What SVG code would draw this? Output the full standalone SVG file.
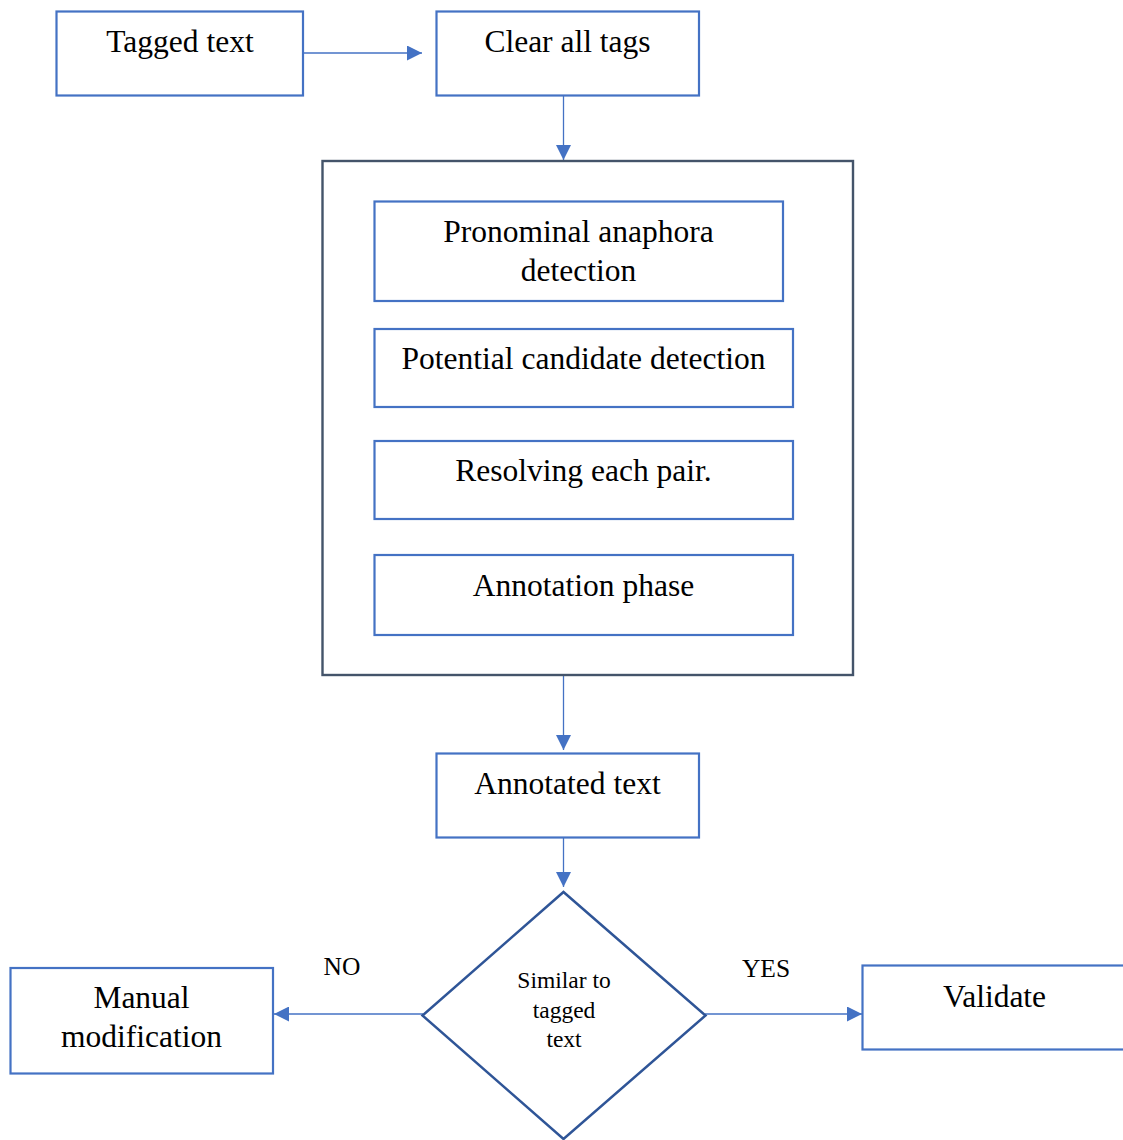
<svg xmlns="http://www.w3.org/2000/svg" width="1123" height="1140" viewBox="0 0 1123 1140">
  <style>
    .box { fill: #ffffff; stroke: #4472C4; stroke-width: 2.2; }
    .frame { fill: #ffffff; stroke: #44546A; stroke-width: 2.4; }
    .decision { fill: #ffffff; stroke: #2F5597; stroke-width: 2.5; }
    .link { fill: none; stroke: #4472C4; stroke-width: 1.3; }
    .lbl { font-family: "Liberation Serif", "Times New Roman", serif; font-size: 31.5px; fill: #000000; text-anchor: middle; }
    .small { font-family: "Liberation Serif", "Times New Roman", serif; font-size: 23.5px; fill: #000000; text-anchor: middle; }
    .branch { font-family: "Liberation Serif", "Times New Roman", serif; font-size: 25.5px; fill: #000000; text-anchor: middle; }
  </style>
  <defs>
    <marker id="arrow" viewBox="0 0 10 10" refX="10" refY="5" markerWidth="15" markerHeight="15" markerUnits="userSpaceOnUse" orient="auto">
      <path d="M0,0 L10,5 L0,10 Z" fill="#4472C4"/>
    </marker>
  </defs>
  <rect width="1123" height="1140" fill="#ffffff"/>

  <!-- connectors -->
  <g id="connectors">
    <line class="link" x1="303" y1="53" x2="422" y2="53" marker-end="url(#arrow)"/>
    <line class="link" x1="563.5" y1="96" x2="563.5" y2="160" marker-end="url(#arrow)"/>
    <line class="link" x1="563.5" y1="675" x2="563.5" y2="750" marker-end="url(#arrow)"/>
    <line class="link" x1="563.5" y1="838" x2="563.5" y2="887" marker-end="url(#arrow)"/>
    <line class="link" x1="423" y1="1014" x2="274" y2="1014" marker-end="url(#arrow)"/>
    <line class="link" x1="705" y1="1014" x2="862" y2="1014" marker-end="url(#arrow)"/>
  </g>

  <g id="tagged-text">
    <rect class="box" x="56.5" y="11.5" width="246.5" height="84"/>
    <text class="lbl" x="180" y="52">Tagged text</text>
  </g>

  <g id="clear-tags">
    <rect class="box" x="436.5" y="11.5" width="262.5" height="84"/>
    <text class="lbl" x="567.5" y="52">Clear all tags</text>
  </g>

  <g id="resolution-stage">
    <rect class="frame" x="322.5" y="161" width="530.5" height="514"/>
  </g>

  <g id="pronoun-detection">
    <rect class="box" x="374.5" y="201.5" width="408.5" height="99.5"/>
    <text class="lbl" x="578.5" y="242">Pronominal anaphora</text>
    <text class="lbl" x="578.5" y="281">detection</text>
  </g>

  <g id="candidate-detection">
    <rect class="box" x="374.5" y="329" width="418.5" height="78"/>
    <text class="lbl" x="583.5" y="369">Potential candidate detection</text>
  </g>

  <g id="pair-resolution">
    <rect class="box" x="374.5" y="441" width="418.5" height="78"/>
    <text class="lbl" x="583.5" y="481">Resolving each pair.</text>
  </g>

  <g id="annotation-phase">
    <rect class="box" x="374.5" y="555" width="418.5" height="80"/>
    <text class="lbl" x="583.5" y="596">Annotation phase</text>
  </g>

  <g id="annotated-text">
    <rect class="box" x="436.5" y="753.5" width="262.5" height="84"/>
    <text class="lbl" x="567.5" y="794">Annotated text</text>
  </g>

  <g id="similarity-check">
    <polygon class="decision" points="563.5,892 705.5,1015.5 563.5,1139 422.5,1015.5"/>
    <text class="small" x="564" y="988">Similar to</text>
    <text class="small" x="564" y="1018">tagged</text>
    <text class="small" x="564" y="1047">text</text>
  </g>

  <g id="manual-modification">
    <rect class="box" x="10.5" y="968" width="262.5" height="105.5"/>
    <text class="lbl" x="141.5" y="1008">Manual</text>
    <text class="lbl" x="141.5" y="1047">modification</text>
  </g>

  <g id="validate">
    <rect class="box" x="862.5" y="965.5" width="264" height="84"/>
    <text class="lbl" x="994.5" y="1007">Validate</text>
  </g>

  <g id="branch-labels">
    <text class="branch" x="342" y="975">NO</text>
    <text class="branch" x="766" y="977">YES</text>
  </g>
</svg>
